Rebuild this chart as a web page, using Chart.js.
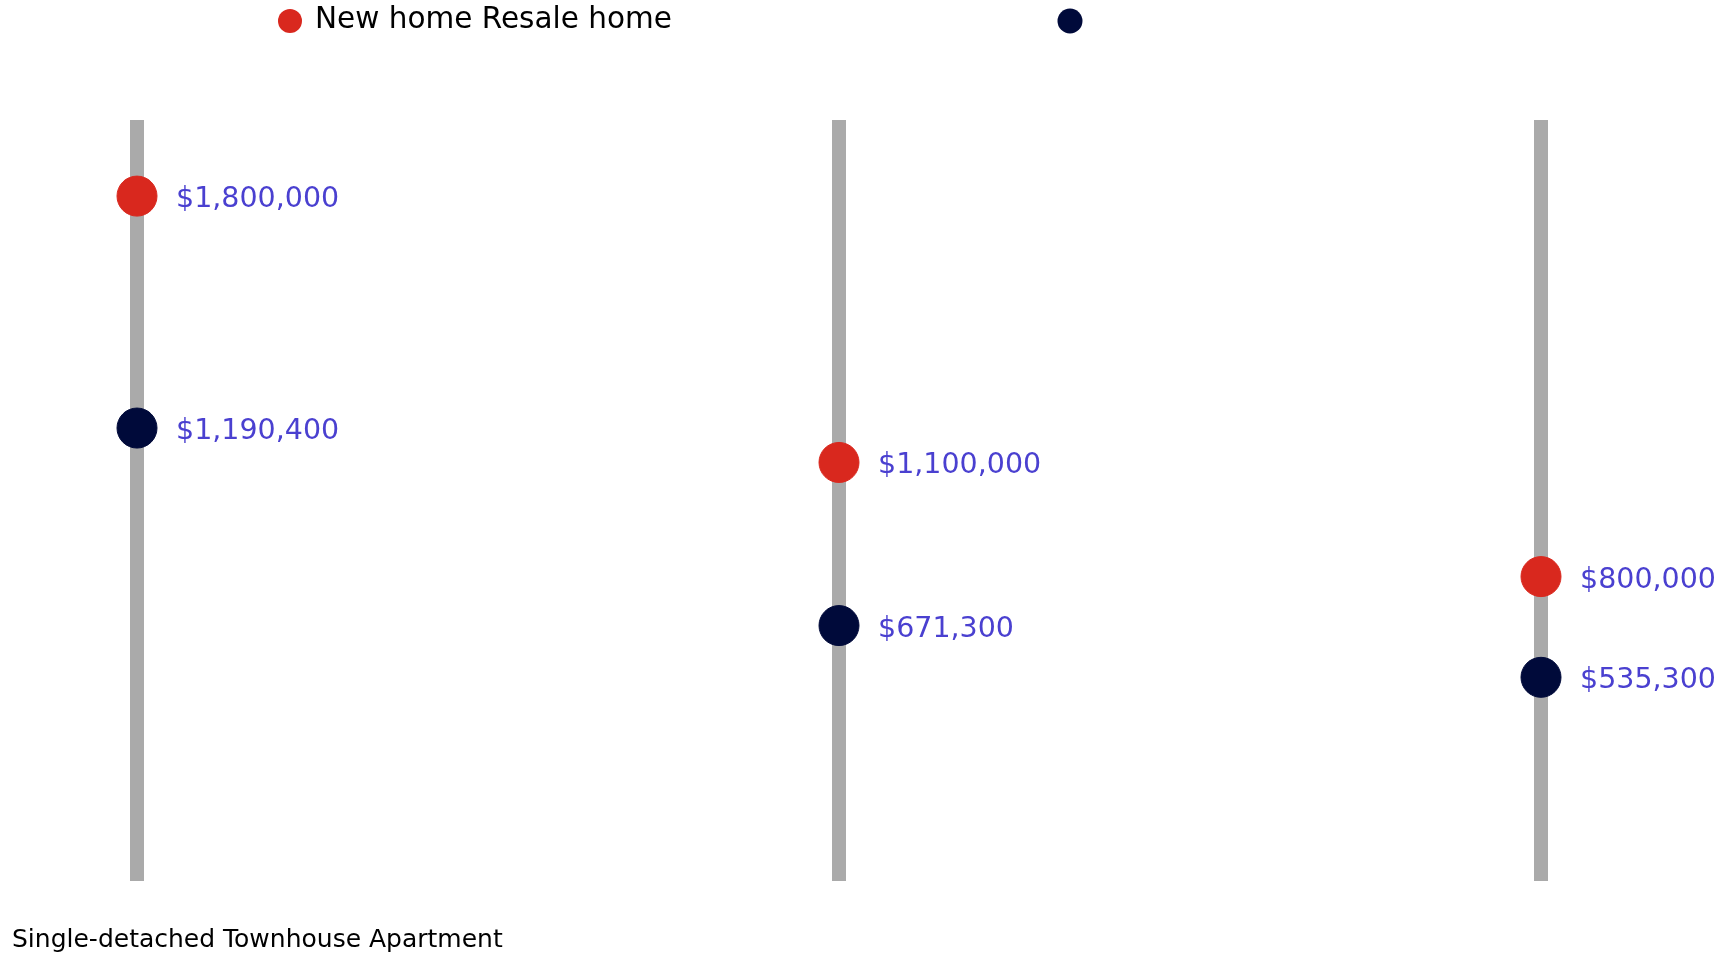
<!DOCTYPE html>
<html>
<head>
<meta charset="utf-8">
<script src="https://cdn.jsdelivr.net/npm/chart.js@4.4.0/dist/chart.umd.min.js"></script>
<style>
html,body{margin:0;padding:0;background:#fff;}
#wrap{width:1721px;height:954px;}
</style>
</head>
<body>
<div id="wrap"><canvas id="c" width="1721" height="954"></canvas></div>
<script>
const categories = ['Single-detached', 'Townhouse', 'Apartment'];
const seriesNames = ['New home', 'Resale home'];
const newHome = [1800000, 1100000, 800000];
const resaleHome = [1190400, 671300, 535300];
const yTickBounds = [0, 2000000];

const RED = '#d9281e';
const NAVY = '#000a3a';
const LABEL = '#4a40d0';
const FONT = "'DejaVu Sans', sans-serif";

const fmt = v => '$' + v.toLocaleString('en-US');

const overlay = {
  id: 'overlay',
  afterDatasetsDraw(chart) {
    const ctx = chart.ctx;
    ctx.save();
    ctx.font = '28.5px ' + FONT;
    ctx.fillStyle = LABEL;
    ctx.textAlign = 'left';
    ctx.textBaseline = 'alphabetic';
    chart.data.datasets.forEach((ds, i) => {
      const meta = chart.getDatasetMeta(i);
      meta.data.forEach((pt, j) => {
        ctx.fillText(fmt(ds.data[j]), pt.x + 39, pt.y + 11);
      });
    });
    ctx.restore();
  },
  afterDraw(chart) {
    const ctx = chart.ctx;
    ctx.save();
    // legend
    ctx.fillStyle = RED;
    ctx.beginPath(); ctx.arc(290, 21, 12, 0, Math.PI * 2); ctx.fill();
    ctx.fillStyle = NAVY;
    ctx.beginPath(); ctx.arc(1070, 21, 12.5, 0, Math.PI * 2); ctx.fill();
    ctx.fillStyle = '#000';
    ctx.font = '29.5px ' + FONT;
    ctx.textBaseline = 'alphabetic';
    ctx.fillText(seriesNames.join(' '), 315, 28);
    // category text
    ctx.font = '25px ' + FONT;
    ctx.fillText(categories.join(' '), 12, 947);
    ctx.restore();
  }
};

new Chart(document.getElementById('c'), {
  type: 'line',
  data: {
    labels: categories,
    datasets: [
      { label: seriesNames[0], data: newHome, showLine: false, pointRadius: 20, pointHoverRadius: 20,
        backgroundColor: RED, borderColor: RED, pointBorderWidth: 1 },
      { label: seriesNames[1], data: resaleHome, showLine: false, pointRadius: 20, pointHoverRadius: 20,
        backgroundColor: NAVY, borderColor: NAVY, pointBorderWidth: 1 }
    ]
  },
  options: {
    responsive: false,
    animation: false,
    devicePixelRatio: 1,
    events: [],
    layout: { padding: { left: 137, right: 180, top: 120, bottom: 73 } },
    plugins: { legend: { display: false }, tooltip: { enabled: false } },
    scales: {
      x: {
        type: 'category',
        offset: false,
        display: true,
        grid: { color: '#aaaaaa', lineWidth: 14, drawTicks: false, offset: false },
        border: { display: false },
        ticks: { display: false }
      },
      y: {
        display: false,
        min: yTickBounds[0],
        max: yTickBounds[1]
      }
    }
  },
  plugins: [overlay]
});
</script>
</body>
</html>
